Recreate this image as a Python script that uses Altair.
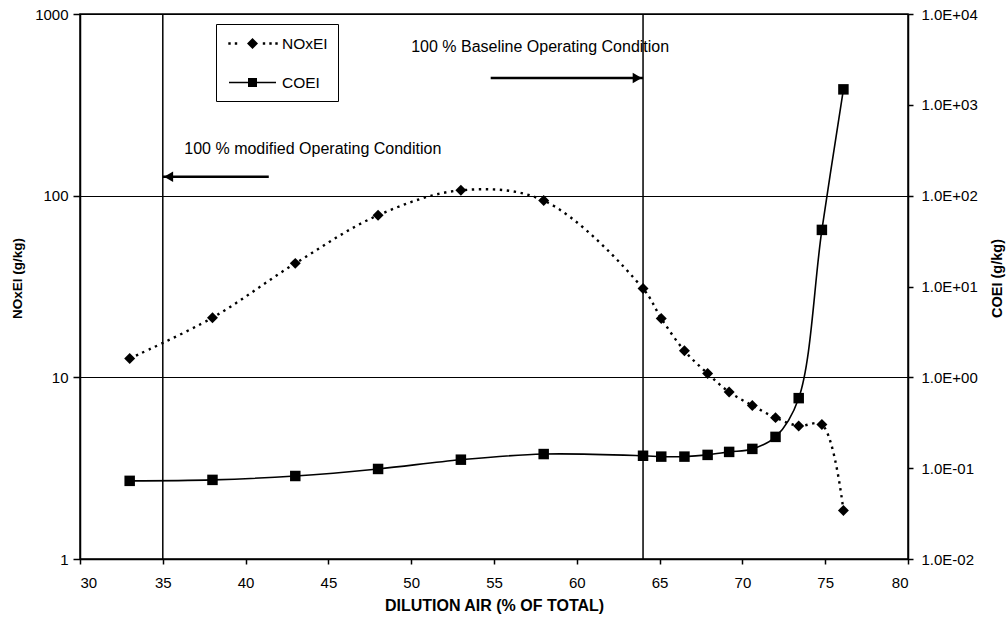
import altair as alt
import pandas as pd

# ---- data ----
dilution = [33.0, 38.0, 43.0, 48.0, 53.0, 58.0, 64.0, 65.1, 66.5, 67.9, 69.2, 70.6, 72.0, 73.4, 74.8, 76.1]
noxei = [12.7, 21.3, 42.4, 78.0, 107.0, 94.0, 30.8, 21.1, 14.0, 10.5, 8.3, 7.0, 6.0, 5.4, 5.5, 1.85]
coei = [0.0725, 0.0743, 0.082, 0.098, 0.124, 0.143, 0.137, 0.134, 0.134, 0.140, 0.151, 0.163, 0.221, 0.59, 42.0, 1480.0]

series_names = ["NOxEI", "COEI"]
x_ticks = [30, 35, 40, 45, 50, 55, 60, 65, 70, 75, 80]
nox_ticks = [1, 10, 100, 1000]
co_ticks = [0.01, 0.1, 1, 10, 100, 1000, 10000]
co_tick_labels = ["1.0E-02", "1.0E-01", "1.0E+00", "1.0E+01", "1.0E+02", "1.0E+03", "1.0E+04"]

condition_lines = [35, 64]
ann_text = ["100 % modified Operating Condition", "100 % Baseline Operating Condition"]
ann_text_x = [36.3, 50.0]
ann_text_y = [180.0, 655.0]
arrow_from = [41.4, 54.8]
arrow_to = [35.0, 64.0]
arrow_y = [127.0, 444.0]
arrow_head_x = [35.35, 63.65]
arrow_head_shape = ["triangle-left", "triangle-right"]

FONT = "Liberation Sans"

df = pd.DataFrame({"x": dilution, "NOxEI": noxei, "COEI": coei})
lines_df = pd.DataFrame({"x": condition_lines})
text_df = pd.DataFrame({"label": ann_text, "x": ann_text_x, "y": ann_text_y})
arrow_df = pd.DataFrame({"x": arrow_from, "x2": arrow_to, "y": arrow_y,
                         "hx": arrow_head_x, "shape": arrow_head_shape})

x_scale = alt.Scale(domain=[30, 80], nice=False, zero=False)
x_axis = alt.Axis(title="DILUTION AIR (% OF TOTAL)", values=x_ticks, grid=False,
                  labelPadding=11, titlePadding=7, tickSize=5)

left_scale = alt.Scale(type="log", domain=[1, 1000], nice=False)
left_axis = alt.Axis(title="NOxEI (g/kg)", values=nox_ticks, grid=True, format="d",
                     tickSize=7, labelPadding=5, titleX=-63, titleY=264,
                     titleAngle=270, titleAlign="center", titleBaseline="middle",
                     titleFontSize=13.5)
right_scale = alt.Scale(type="log", domain=[0.01, 10000], nice=False)
label_array = "[" + ",".join("'%s'" % s for s in co_tick_labels) + "]"
right_axis = alt.Axis(title="COEI (g/kg)", values=co_ticks, grid=False, orient="right",
                      labelExpr=label_array + "[round(log(datum.value)/LN10)+2]",
                      tickSize=5, labelPadding=8, titleX=89, titleY=264,
                      titleAngle=270, titleAlign="center", titleBaseline="middle",
                      titleFontSize=14.5)

X = alt.X("x:Q", scale=x_scale, axis=x_axis)
Y_nox = alt.Y("NOxEI:Q", scale=left_scale, axis=left_axis)

nox_line = alt.Chart(df).mark_line(
    interpolate="catmull-rom", color="black", strokeWidth=2.4,
    strokeDash=[2.4, 4.6], strokeCap="butt"
).encode(x=X, y=Y_nox)
nox_pts = alt.Chart(df).mark_point(
    shape="diamond", filled=True, color="black", size=120, opacity=1
).encode(x=X, y=Y_nox)

vlines = alt.Chart(lines_df).mark_rule(color="black", strokeWidth=1.5).encode(
    x=alt.X("x:Q", scale=x_scale, axis=x_axis))

texts = alt.Chart(text_df).mark_text(
    align="left", baseline="middle", font=FONT, fontSize=16, color="black"
).encode(x=alt.X("x:Q", scale=x_scale, axis=x_axis),
         y=alt.Y("y:Q", scale=left_scale, axis=left_axis),
         text="label:N")

arrow_lines = alt.Chart(arrow_df).mark_rule(color="black", strokeWidth=2.5).encode(
    x=alt.X("x:Q", scale=x_scale, axis=x_axis), x2="x2:Q",
    y=alt.Y("y:Q", scale=left_scale, axis=left_axis))
arrow_heads = [
    alt.Chart(arrow_df).transform_filter(alt.datum.shape == s).mark_point(
        shape=s, filled=True, color="black", size=110, opacity=1
    ).encode(x=alt.X("hx:Q", scale=x_scale, axis=x_axis),
             y=alt.Y("y:Q", scale=left_scale, axis=left_axis))
    for s in arrow_head_shape
]


# legend-only layer (no data drawn); symbol = filled line glyph with marker
def _sq(cx, h):
    return "M%.2f,%.2fL%.2f,%.2fL%.2f,%.2fL%.2f,%.2fZ" % (cx - h, -h, cx + h, -h, cx + h, h, cx - h, h)


nox_sym = "".join(_sq(c, 0.12) for c in [-0.6, 0.05, 2.85, 3.5, 4.1]) + "M1.7,-0.55L2.25,0L1.7,0.55L1.15,0Z"
co_sym = "M-0.65,-0.08L4.05,-0.08L4.05,0.08L-0.65,0.08Z" + _sq(1.7, 0.45)
leg = alt.Legend(orient="none", legendX=136, legendY=10, title=None,
                 fillColor="white", strokeColor="black", padding=9.5,
                 symbolSize=400, labelFontSize=15.5, labelFont=FONT,
                 labelColor="black", labelOffset=36.5, rowPadding=20,
                 symbolStrokeWidth=0, symbolFillColor="black")
legend_layer = alt.Chart(df).transform_filter("false").transform_calculate(
    series="'NOxEI'"
).mark_point(filled=True, color="black", opacity=1).encode(
    shape=alt.Shape("series:N", scale=alt.Scale(domain=series_names, range=[nox_sym, co_sym]),
                    legend=leg),
)

left = alt.layer(vlines, nox_line, nox_pts, arrow_lines, *arrow_heads, texts, legend_layer)

Y_co = alt.Y("COEI:Q", scale=right_scale, axis=right_axis)
co_line = alt.Chart(df).mark_line(interpolate="catmull-rom", color="black", strokeWidth=1.6).encode(x=X, y=Y_co)
co_pts = alt.Chart(df).mark_point(shape="square", filled=True, color="black", size=110, opacity=1).encode(x=X, y=Y_co)
right = alt.layer(co_line, co_pts)

chart = alt.layer(left, right).resolve_scale(y="independent").properties(
    width=828, height=545,
    autosize=alt.AutoSizeParams(type="none"),
    padding={"left": 80, "top": 14, "right": 100, "bottom": 63},
    background="white",
).configure_view(stroke="black", strokeWidth=1.5).configure_axis(
    domainColor="black", domainWidth=1.5, tickColor="black", tickWidth=1.5,
    labelColor="black", labelFont=FONT, labelFontSize=15,
    titleColor="black", titleFont=FONT, titleFontSize=14, titleFontWeight="bold",
    gridColor="black", gridOpacity=1, gridWidth=1.2,
).configure_axisX(titleFontSize=16)

chart.save("out.html", embed_options={"renderer": "svg", "actions": False})
